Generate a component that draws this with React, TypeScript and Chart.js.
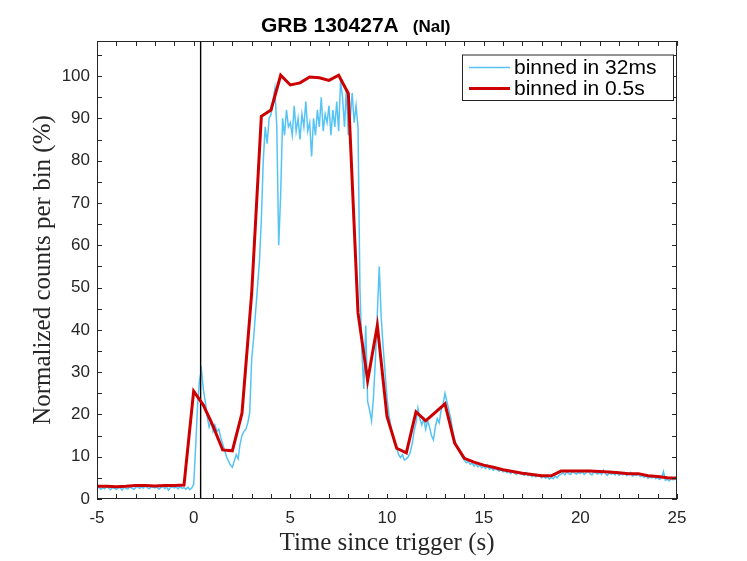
import { useEffect, useRef } from 'react'
import { Chart, registerables, Plugin } from 'chart.js'

Chart.register(...registerables)

// time axis of both light curves starts at -5 s
const startTime = -5
const coarseStep = 0.5
const fineStep = 0.1

// binned in 0.5 s, -5 .. 25 s
const binned05s = [
  3.0, 3.0, 2.9, 3.0, 3.2, 3.2, 3.1, 3.2, 3.2, 3.3,
  25.5, 22.2, 17.3, 11.6, 11.4, 20.3, 48.6, 90.5, 92.0, 100.2,
  97.9, 98.4, 99.8, 99.6, 99.0, 100.2, 95.9, 44.0, 28.0, 41.0,
  19.5, 12.0, 10.9, 20.6, 18.5, 20.5, 22.5, 13.2, 9.6, 8.7,
  8.0, 7.5, 6.9, 6.5, 6.1, 5.8, 5.5, 5.5, 6.6, 6.6,
  6.6, 6.6, 6.5, 6.4, 6.2, 6.0, 6.0, 5.5, 5.3, 5.0,
  4.9,
]

const binned32ms = [
  2.5, 2.8, 2.3, 2.7, 2.4, 2.9, 2.6, 2.2, 2.7, 2.5,
  2.3, 2.7, 2.6, 2.1, 2.8, 2.5, 2.4, 2.9, 2.6, 2.3,
  2.7, 3.0, 2.5, 2.8, 2.6, 3.1, 2.7, 2.4, 2.9, 2.8,
  2.6, 2.9, 2.3, 2.7, 3.0, 2.5, 2.8, 2.1, 2.7, 2.9,
  2.6, 2.8, 2.4, 3.0, 2.5, 2.7, 2.3, 2.8, 2.2, 2.6,
  3.5, 12.0, 22.0, 28.0, 30.5, 26.0, 23.0, 19.5, 17.0, 18.5,
  16.0, 17.5, 16.0, 16.5, 14.5, 13.0, 11.5, 10.0, 9.0, 8.0,
  7.5, 9.0, 10.5, 9.5, 13.0, 15.0, 16.0, 16.5, 18.0, 20.5,
  33.0, 38.0, 44.0, 50.0, 56.0, 66.0, 80.0, 88.0, 84.0, 90.0,
  91.0, 94.0, 97.0, 88.0, 60.0, 72.0, 90.0, 86.0, 92.0, 88.0,
  89.0, 86.0, 93.0, 87.0, 90.0, 85.0, 91.0, 88.0, 94.0, 87.0,
  89.0, 81.0, 90.0, 86.0, 92.0, 88.0, 95.0, 87.0, 91.0, 89.0,
  93.0, 86.0, 92.0, 88.0, 94.0, 87.0, 99.0, 95.0, 88.0, 97.0,
  86.0, 90.0, 96.0, 89.0, 93.0, 88.0, 50.0, 35.0, 26.0, 41.0,
  23.0, 21.0, 18.5, 24.0, 33.0, 44.0, 55.0, 43.0, 36.0, 30.0,
  24.0, 20.0, 17.0, 15.0, 13.0, 12.0, 10.5, 9.8, 10.5, 9.2,
  9.5, 10.0, 11.0, 13.0, 16.0, 18.0, 21.5, 19.0, 17.5, 19.0,
  16.5, 18.5, 17.0, 15.0, 14.0, 17.0, 19.0, 18.0, 21.0, 22.5,
  25.0, 23.0, 21.0, 19.0, 16.0, 14.0, 12.5, 11.5, 10.8, 9.8,
  9.2, 8.6, 8.9, 8.2, 8.5, 7.8, 8.3, 7.6, 8.0, 7.4,
  7.7, 7.2, 7.9, 7.0, 7.4, 6.8, 7.3, 6.9, 6.6, 7.1,
  6.4, 6.8, 6.2, 6.6, 6.0, 6.5, 6.1, 5.8, 6.3, 5.9,
  6.0, 5.6, 6.2, 5.5, 5.9, 5.3, 5.7, 5.2, 5.6, 5.4,
  5.0, 5.5, 4.9, 5.3, 4.7, 5.1, 4.8, 5.4, 5.0, 5.6,
  5.9, 6.2, 5.7, 6.4, 6.0, 5.8, 6.6, 6.1, 5.9, 6.3,
  6.0, 6.5, 5.8, 6.2, 6.7, 6.0, 5.7, 6.4, 6.1, 5.9,
  6.3, 5.8, 6.8, 6.0, 5.6, 6.2, 5.9, 6.1, 5.7, 6.3,
  5.6, 6.0, 5.7, 6.2, 5.5, 5.9, 6.3, 5.4, 5.8, 5.6,
  5.9, 5.3, 5.6, 5.1, 5.5, 4.9, 5.3, 5.0, 5.4, 4.8,
  5.1, 4.6, 5.0, 6.5, 4.4, 4.7, 4.3, 4.9, 4.5, 5.2,
  4.6,
]

const triggerLine = [0.36, 0.36]
const triggerSpan = [0, 108.3]

const xTickValues = [-5, 0, 5, 10, 15, 20, 25]
const yTickValues = [0, 10, 20, 30, 40, 50, 60, 70, 80, 90, 100]

const axisColor = '#262626'
const sans = '"Liberation Sans", Arial, sans-serif'
const serif = '"Liberation Serif", "Times New Roman", serif'

const toPoints = (vals: number[], step: number) =>
  vals.map((y, i) => ({ x: startTime + i * step, y }))

// box, inward ticks on four sides, title and legend (matlab look)
const matlabAxes: Plugin = {
  id: 'matlabAxes',
  afterDraw(chart) {
    const { ctx, chartArea: a, scales } = chart
    const xs = scales.x
    const ys = scales.y
    const tick = 5
    ctx.save()
    ctx.strokeStyle = axisColor
    ctx.lineWidth = 1
    ctx.beginPath()
    for (let v = -5; v <= 25; v += 1) {
      const px = Math.round(xs.getPixelForValue(v)) + 0.5
      ctx.moveTo(px, a.bottom)
      ctx.lineTo(px, a.bottom - tick)
      ctx.moveTo(px, a.top)
      ctx.lineTo(px, a.top + tick)
    }
    for (let v = 0; v <= 105; v += 5) {
      const py = Math.round(ys.getPixelForValue(v)) + 0.5
      ctx.moveTo(a.left, py)
      ctx.lineTo(a.left + tick, py)
      ctx.moveTo(a.right, py)
      ctx.lineTo(a.right - tick, py)
    }
    ctx.stroke()
    ctx.strokeRect(a.left + 0.5, a.top + 0.5, a.right - a.left - 1, a.bottom - a.top - 1)

    // title
    ctx.fillStyle = '#000'
    ctx.textBaseline = 'alphabetic'
    ctx.textAlign = 'left'
    ctx.font = `bold 21px ${sans}`
    const main = 'GRB 130427A'
    ctx.fillText(main, 261, 31.5)
    const w = ctx.measureText(main).width
    ctx.font = `bold 17px ${sans}`
    ctx.fillText('(NaI)', 261 + w + 14, 31.5)

    // legend
    const lx = 462
    const ly = 54.5
    const lw = 211
    const lh = 45.5
    ctx.fillStyle = '#fff'
    ctx.fillRect(lx, ly, lw, lh)
    ctx.strokeStyle = axisColor
    ctx.lineWidth = 1
    ctx.strokeRect(lx + 0.5, ly + 0.5, lw, lh)
    const items = [chart.data.datasets[0], chart.data.datasets[2]]
    items.forEach((ds, i) => {
      const yy = ly + 13 + i * 21
      ctx.strokeStyle = ds.borderColor as string
      ctx.lineWidth = (ds as any).borderWidth
      ctx.beginPath()
      ctx.moveTo(lx + 7, yy)
      ctx.lineTo(lx + 48, yy)
      ctx.stroke()
      ctx.fillStyle = '#000'
      ctx.font = `21px ${sans}`
      ctx.textBaseline = 'middle'
      ctx.fillText(ds.label as string, lx + 52, yy + 1)
    })
    ctx.restore()
  },
}

export default function App() {
  const canvasRef = useRef<HTMLCanvasElement>(null)

  useEffect(() => {
    if (!canvasRef.current) return
    const chart = new Chart(canvasRef.current, {
      type: 'line',
      data: {
        datasets: [
          {
            label: 'binned in 32ms',
            data: toPoints(binned32ms, fineStep),
            borderColor: '#55c4f5',
            borderWidth: 1.5,
            pointRadius: 0,
            order: 3,
          },
          {
            label: 'trigger',
            data: triggerLine.map((x, i) => ({ x, y: triggerSpan[i] })),
            borderColor: '#000',
            borderWidth: 1.4,
            pointRadius: 0,
            order: 2,
          },
          {
            label: 'binned in 0.5s',
            data: toPoints(binned05s, coarseStep),
            borderColor: '#cc0000',
            borderWidth: 3,
            pointRadius: 0,
            order: 1,
          },
        ],
      },
      options: {
        responsive: false,
        animation: false,
        devicePixelRatio: 1,
        layout: { padding: { top: 41, right: 70, left: 0, bottom: 0 } },
        plugins: {
          legend: { display: false },
          title: { display: false },
          tooltip: { enabled: false },
        },
        scales: {
          x: {
            type: 'linear',
            min: -5,
            max: 25,
            afterFit: (s) => { s.height = 62 },
            afterBuildTicks: (s) => { s.ticks = xTickValues.map((value) => ({ value })) },
            grid: { display: false, drawTicks: false },
            border: { display: false },
            ticks: {
              color: axisColor,
              font: { family: sans, size: 17 },
              padding: 9,
              maxRotation: 0,
              autoSkip: false,
            },
            title: {
              display: true,
              text: 'Time since trigger (s)',
              color: axisColor,
              font: { family: serif, size: 25 },
              padding: { top: 3, bottom: 3 },
            },
          },
          y: {
            type: 'linear',
            min: 0,
            max: 108.3,
            afterFit: (s) => { s.width = 97 },
            afterBuildTicks: (s) => { s.ticks = yTickValues.map((value) => ({ value })) },
            grid: { display: false, drawTicks: false },
            border: { display: false },
            ticks: {
              color: axisColor,
              font: { family: sans, size: 17 },
              padding: 7,
              autoSkip: false,
            },
            title: {
              display: true,
              text: 'Normalized counts per bin (%)',
              color: axisColor,
              font: { family: serif, size: 25 },
              padding: { top: 28, bottom: 28 },
            },
          },
        },
      },
      plugins: [matlabAxes],
    })
    return () => chart.destroy()
  }, [])

  return (
    <div style={{ position: 'fixed', left: 0, top: 0, width: 747, height: 561, background: '#fff' }}>
      <canvas ref={canvasRef} width={747} height={561} />
    </div>
  )
}
